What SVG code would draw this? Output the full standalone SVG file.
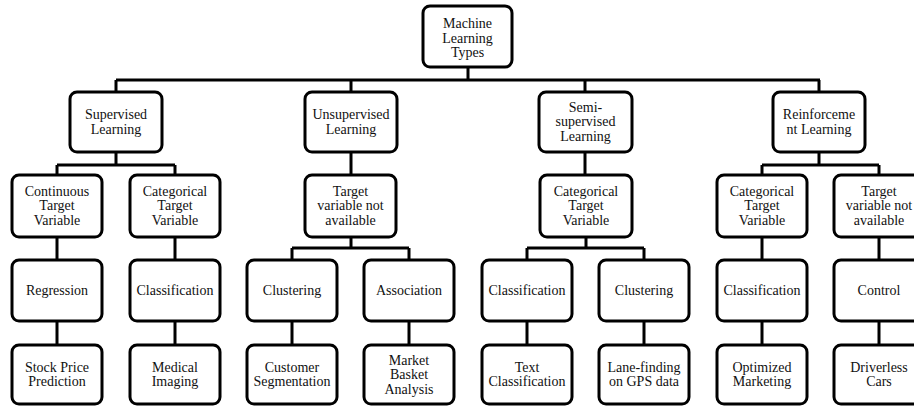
<svg xmlns="http://www.w3.org/2000/svg" width="914" height="406" viewBox="0 0 914 406" font-family="Liberation Serif, Tinos, Times New Roman, DejaVu Serif, serif">
<style>
.box{fill:#fff;stroke:#000;stroke-width:3}
.con path{fill:none;stroke:#000;stroke-width:3}
text{font-family:'Liberation Serif','Tinos','Times New Roman','DejaVu Serif',serif;font-size:14px;fill:#111;text-anchor:middle}
</style>
<rect width="914" height="406" fill="#fff"/>
<g class="con" id="connectors">
<path d="M468,67 V80 M116,80 H820 M116,80 V92 M351,80 V92 M585,80 V92 M819,80 V92"/>
<path d="M116,152 V165 M57,165 H175 M57,165 V175 M175,165 V175"/>
<path d="M351,152 V175 M351,237 V248 M292,248 H409 M292,248 V260 M409,248 V260"/>
<path d="M585,152 V175 M586,237 V248 M527,248 H644 M527,248 V260 M644,248 V260"/>
<path d="M819,152 V165 M762,165 H879 M762,165 V175 M879,165 V175"/>
<path d="M57,237 V260 M175,237 V260 M762,237 V260 M879,237 V260"/>
<path d="M57,321 V345 M175,321 V345 M292,321 V345 M409,321 V345 M527,321 V345 M644,321 V345 M762,321 V345 M879,321 V345"/>
</g>
<g id="root"><rect class="box" x="423" y="6" width="89" height="61" rx="7"/><text x="467.5" y="28">Machine</text><text x="467.5" y="42.5">Learning</text><text x="467.5" y="57">Types</text></g>
<g id="supervised"><rect class="box" x="70" y="92" width="92" height="60" rx="7"/><text x="116" y="119">Supervised</text><text x="116" y="133.5">Learning</text></g>
<g id="unsupervised"><rect class="box" x="305" y="92" width="92" height="60" rx="7"/><text x="351" y="119">Unsupervised</text><text x="351" y="133.5">Learning</text></g>
<g id="semi"><rect class="box" x="539" y="92" width="93" height="60" rx="7"/><text x="585.5" y="111.5">Semi-</text><text x="585.5" y="126">supervised</text><text x="585.5" y="140.5">Learning</text></g>
<g id="reinforcement"><rect class="box" x="773" y="92" width="92" height="60" rx="7"/><text x="819" y="119">Reinforceme</text><text x="819" y="133.5">nt Learning</text></g>
<g id="sup-cont"><rect class="box" x="12" y="175" width="90" height="62" rx="7"/><text x="57" y="195.5">Continuous</text><text x="57" y="210">Target</text><text x="57" y="224.5">Variable</text></g>
<g id="sup-cat"><rect class="box" x="130" y="175" width="90" height="62" rx="7"/><text x="175" y="195.5">Categorical</text><text x="175" y="210">Target</text><text x="175" y="224.5">Variable</text></g>
<g id="unsup-target"><rect class="box" x="305" y="175" width="91" height="62" rx="7"/><text x="350.5" y="195.5">Target</text><text x="350.5" y="210">variable not</text><text x="350.5" y="224.5">available</text></g>
<g id="semi-cat"><rect class="box" x="540" y="175" width="92" height="62" rx="7"/><text x="586" y="195.5">Categorical</text><text x="586" y="210">Target</text><text x="586" y="224.5">Variable</text></g>
<g id="rein-cat"><rect class="box" x="717" y="175" width="90" height="62" rx="7"/><text x="762" y="195.5">Categorical</text><text x="762" y="210">Target</text><text x="762" y="224.5">Variable</text></g>
<g id="rein-target"><rect class="box" x="834" y="175" width="91" height="62" rx="7"/><text x="879" y="195.5">Target</text><text x="879" y="210">variable not</text><text x="879" y="224.5">available</text></g>
<g id="regression"><rect class="box" x="12" y="260" width="90" height="61" rx="7"/><text x="57" y="294.5">Regression</text></g>
<g id="classification1"><rect class="box" x="130" y="260" width="90" height="61" rx="7"/><text x="175" y="294.5">Classification</text></g>
<g id="clustering1"><rect class="box" x="247" y="260" width="90" height="61" rx="7"/><text x="292" y="294.5">Clustering</text></g>
<g id="association"><rect class="box" x="364" y="260" width="90" height="61" rx="7"/><text x="409" y="294.5">Association</text></g>
<g id="classification2"><rect class="box" x="482" y="260" width="90" height="61" rx="7"/><text x="527" y="294.5">Classification</text></g>
<g id="clustering2"><rect class="box" x="599" y="260" width="90" height="61" rx="7"/><text x="644" y="294.5">Clustering</text></g>
<g id="classification3"><rect class="box" x="717" y="260" width="90" height="61" rx="7"/><text x="762" y="294.5">Classification</text></g>
<g id="control"><rect class="box" x="834" y="260" width="90" height="61" rx="7"/><text x="879" y="294.5">Control</text></g>
<g id="stock"><rect class="box" x="12" y="345" width="90" height="59" rx="7"/><text x="57" y="372">Stock Price</text><text x="57" y="386">Prediction</text></g>
<g id="medical"><rect class="box" x="130" y="345" width="90" height="59" rx="7"/><text x="175" y="372">Medical</text><text x="175" y="386">Imaging</text></g>
<g id="customer"><rect class="box" x="247" y="345" width="90" height="59" rx="7"/><text x="292" y="372">Customer</text><text x="292" y="386">Segmentation</text></g>
<g id="market"><rect class="box" x="364" y="345" width="90" height="59" rx="7"/><text x="409" y="364.5">Market</text><text x="409" y="379">Basket</text><text x="409" y="393.5">Analysis</text></g>
<g id="text-class"><rect class="box" x="482" y="345" width="90" height="59" rx="7"/><text x="527" y="372">Text</text><text x="527" y="386">Classification</text></g>
<g id="lane"><rect class="box" x="599" y="345" width="90" height="59" rx="7"/><text x="644" y="372">Lane-finding</text><text x="644" y="386">on GPS data</text></g>
<g id="optimized"><rect class="box" x="717" y="345" width="90" height="59" rx="7"/><text x="762" y="372">Optimized</text><text x="762" y="386">Marketing</text></g>
<g id="driverless"><rect class="box" x="834" y="345" width="90" height="59" rx="7"/><text x="879" y="372">Driverless</text><text x="879" y="386">Cars</text></g>
</svg>
